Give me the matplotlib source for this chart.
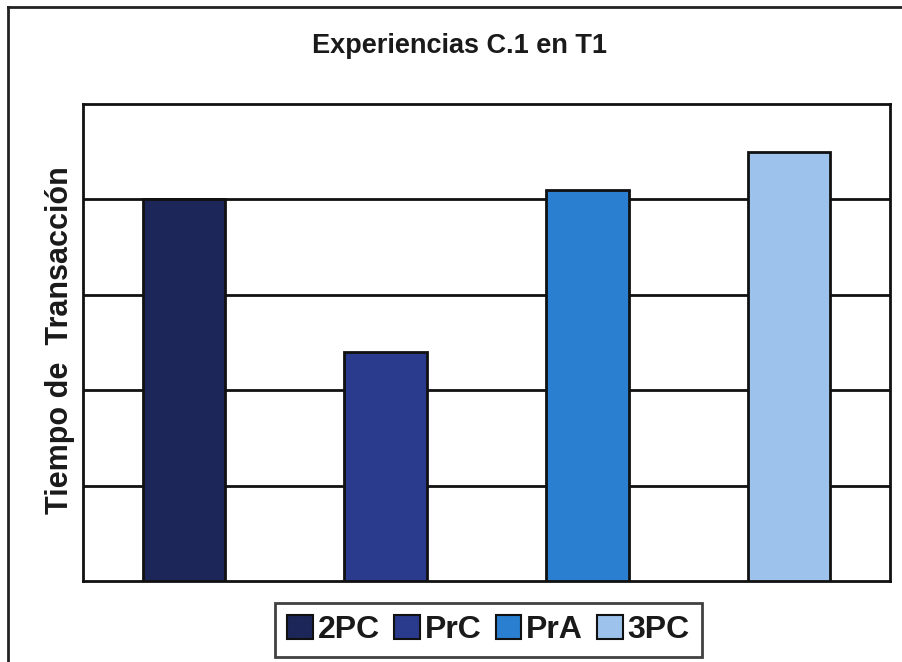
import matplotlib
matplotlib.use("Agg")
import matplotlib.pyplot as plt
from matplotlib.lines import Line2D
from matplotlib.patches import Patch

categories = ["2PC", "PrC", "PrA", "3PC"]
values = [4.0, 2.4, 4.1, 4.5]
colors = ["#1c2658", "#2a3a8c", "#2a7fd0", "#9dc3ec"]
title = "Experiencias C.1 en T1"
ylabel = "Tiempo de  Transacción"

plt.rcParams['font.family'] = ['Liberation Sans', 'DejaVu Sans']

fig = plt.figure(figsize=(9.02, 6.62), dpi=100)
fig.patch.set_facecolor("white")
ax = fig.add_axes([83/902, 1-581/662, (890-83)/902, (581-104)/662])

x = list(range(len(categories)))
ax.bar(x, values, width=0.41, color=colors, edgecolor="#111111", linewidth=2, zorder=3)
ax.set_xlim(-0.5, 3.5)
ax.set_ylim(0, 5)
ax.set_yticks([1, 2, 3, 4])
ax.set_xticks([])
ax.tick_params(axis='y', length=0, labelleft=False)
ax.grid(axis='y', color="#111111", linewidth=2, zorder=1)
for s in ax.spines.values():
    s.set_linewidth(2)
    s.set_color("#111111")

fig.text(459/902, 1-46/662, title, ha='center', va='center', fontsize=19.5,
         fontweight='bold', color="#1a1a1a")
fig.text(60/902, 1-340/662, ylabel, ha='center', va='center', rotation=90,
         fontsize=22, fontweight='bold', color="#1a1a1a")

handles = [Patch(facecolor=c, edgecolor="#111111", linewidth=1.5) for c in colors]
leg = fig.legend(handles, categories, loc='center', bbox_to_anchor=(488.5/902, 1-630/662),
                 ncol=4, frameon=True, fancybox=False,
                 prop={'weight': 'bold', 'size': 23},
                 handlelength=0.8, handleheight=0.8, handletextpad=0.15,
                 columnspacing=0.45, borderpad=0.38, borderaxespad=0)
leg.get_frame().set_edgecolor("#111111")
leg.get_frame().set_linewidth(2)
for t in leg.get_texts():
    t.set_color("#1a1a1a")

# outer frame (left and top visible)
fig.add_artist(Line2D([8/902, 8/902], [0, 1-7/662], transform=fig.transFigure,
                      color="#222222", linewidth=2))
fig.add_artist(Line2D([8/902, 1], [1-7/662, 1-7/662], transform=fig.transFigure,
                      color="#222222", linewidth=2))

fig.savefig("out.png", dpi=100)
